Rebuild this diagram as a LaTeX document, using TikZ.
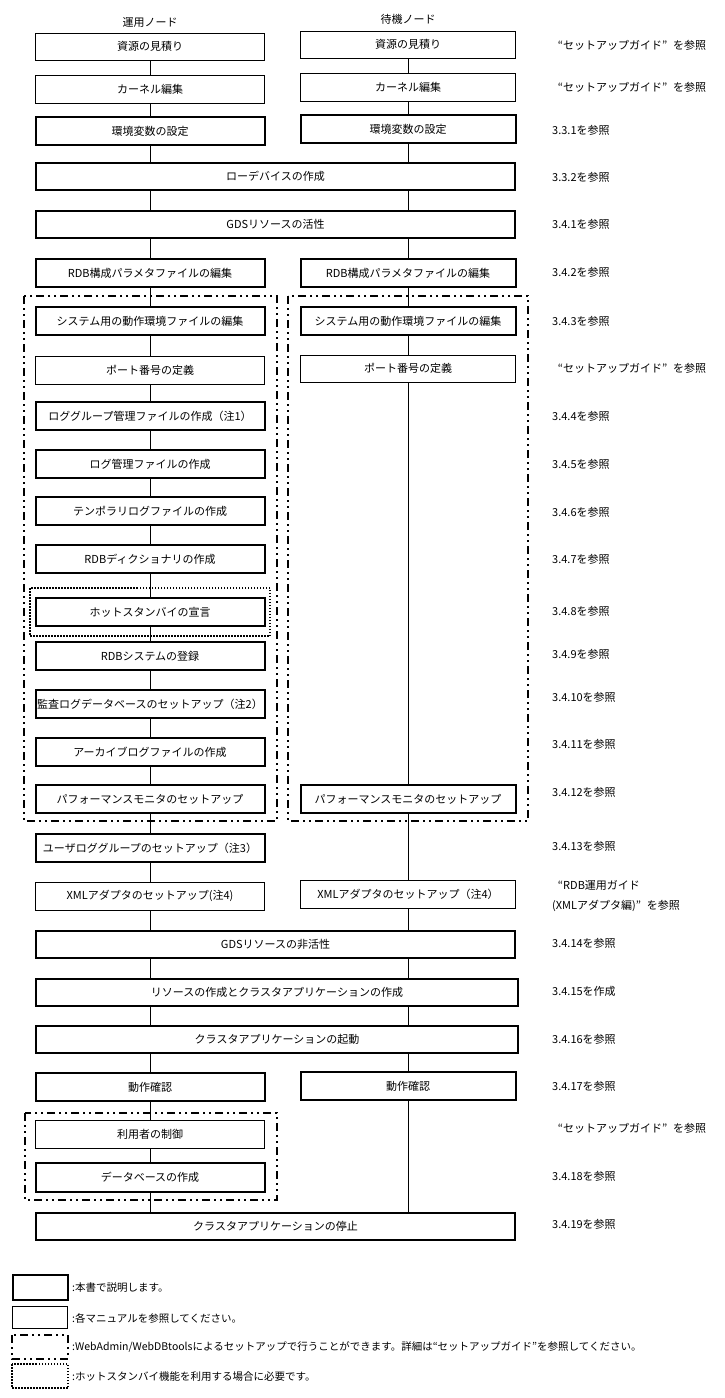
\documentclass[tikz,border=0pt]{standalone}
\usepackage{fontspec}
\setmainfont{Noto Sans CJK JP}
\tikzset{
  base/.style={rectangle, inner sep=0pt, outer sep=0pt, font=\fontsize{11}{13}\selectfont, align=center},
  thickbox/.style={base, draw, line width=2pt},
  thinbox/.style={base, draw, line width=1pt},
  lw/.style={minimum width=229pt, minimum height=28pt},
  rw/.style={minimum width=215pt, minimum height=28pt},
  ww/.style={minimum width=479pt, minimum height=27pt},
  conn/.style={line width=1pt},
  ddbox/.style={line width=2pt, dash pattern=on 8pt off 4pt on 2pt off 4pt on 2pt off 4pt},
  dotbox/.style={line width=1.5pt, dash pattern=on 1.5pt off 1.5pt},
  ref/.style={anchor=west, inner sep=0pt, font=\fontsize{11}{13}\selectfont},
  head/.style={inner sep=0pt, font=\fontsize{11}{13}\selectfont},
  leg/.style={anchor=west, inner sep=0pt, font=\fontsize{10.5}{12}\selectfont},
}
\newcommand\myLQ{\makebox[11pt][r]{“}}
\newcommand\myRQ{\makebox[11pt][l]{”}}
\begin{document}
\begin{tikzpicture}[x=1pt, y=-1pt]
\useasboundingbox[fill=white] (0,0) rectangle (725,1398);
\coordinate (lcol) at (150,0);
\coordinate (rcol) at (408,0);

% headers
\node[head] (hL) at (150,22) {運用ノード};
\node[head] (hR) at (408,19) {待機ノード};

% grouping frames
\draw[ddbox] (24,296) rectangle (277,821);
\draw[ddbox] (288,296) rectangle (528,821);
\draw[ddbox] (25,1113) rectangle (277,1200);
\draw[dotbox] (30,588) rectangle (270,636);

% left column
\node[thinbox, lw, minimum height=27pt] (L1) at (150,46.5) {資源の見積り};
\node[thinbox, lw] (L2) at (150,89) {カーネル編集};
\node[thickbox, lw] (L3) at (150,131) {環境変数の設定};
\node[thickbox, ww] (W4) at (275.5,176.5) {ローデバイスの作成};
\node[thickbox, ww] (W5) at (275.5,224.5) {GDSリソースの活性};
\node[thickbox, lw] (L6) at (150,273) {RDB構成パラメタファイルの編集};
\node[thickbox, lw] (L7) at (150,321) {システム用の動作環境ファイルの編集};
\node[thinbox, lw] (L8) at (150,370) {ポート番号の定義};
\node[thickbox, lw] (L9) at (150,416) {ロググループ管理ファイルの作成（注1）};
\node[thickbox, lw] (L10) at (150,464) {ログ管理ファイルの作成};
\node[thickbox, lw] (L11) at (150,511) {テンポラリログファイルの作成};
\node[thickbox, lw] (L12) at (150,559) {RDBディクショナリの作成};
\node[thickbox, lw] (L13) at (150,612) {ホットスタンバイの宣言};
\node[thickbox, lw] (L14) at (150,656) {RDBシステムの登録};
\node[thickbox, lw] (L15) at (150,704) {監査ログデータベースのセットアップ（注2）};
\node[thickbox, lw] (L16) at (150,752) {アーカイブログファイルの作成};
\node[thickbox, lw] (L17) at (150,799) {パフォーマンスモニタのセットアップ};
\node[thickbox, lw] (L18) at (150,848) {ユーザロググループのセットアップ（注3）};
\node[thinbox, lw] (L19) at (150,896) {XMLアダプタのセットアップ(注4)};
\node[thickbox, ww] (W20) at (275.5,944) {GDSリソースの非活性};
\node[thickbox, ww, minimum width=482pt] (W21) at (277,992) {リソースの作成とクラスタアプリケーションの作成};
\node[thickbox, ww, minimum width=482pt] (W22) at (277,1039) {クラスタアプリケーションの起動};
\node[thickbox, lw] (L23) at (150,1087) {動作確認};
\node[thinbox, lw] (L24) at (150,1134) {利用者の制御};
\node[thickbox, lw, minimum height=29pt] (L25) at (150,1177.5) {データベースの作成};
\node[thickbox, ww] (W26) at (275.5,1226) {クラスタアプリケーションの停止};

% right column
\node[thinbox, rw, minimum height=27pt] (R1) at (408,44.5) {資源の見積り};
\node[thinbox, rw] (R2) at (408,87) {カーネル編集};
\node[thickbox, rw] (R3) at (408,129) {環境変数の設定};
\node[thickbox, rw] (R6) at (408,273) {RDB構成パラメタファイルの編集};
\node[thickbox, rw] (R7) at (408,321) {システム用の動作環境ファイルの編集};
\node[thinbox, rw, minimum height=27pt] (R8) at (408,368.5) {ポート番号の定義};
\node[thickbox, rw] (R17) at (408,799) {パフォーマンスモニタのセットアップ};
\node[thinbox, rw] (R19) at (408,894) {XMLアダプタのセットアップ（注4）};
\node[thickbox, rw] (R23) at (408,1086) {動作確認};

% left connectors
\draw[conn] (L1) -- (L2);
\draw[conn] (L2) -- (L3);
\draw[conn] (L3) -- (L3.south |- W4.north);
\draw[conn] (W4.south -| lcol) -- (W5.north -| lcol);
\draw[conn] (W5.south -| lcol) -- (L6);
\draw[conn] (L6) -- (L7);
\draw[conn] (L7) -- (L8);
\draw[conn] (L8) -- (L9);
\draw[conn] (L9) -- (L10);
\draw[conn] (L10) -- (L11);
\draw[conn] (L11) -- (L12);
\draw[conn] (L12) -- (L13);
\draw[conn] (L13) -- (L14);
\draw[conn] (L14) -- (L15);
\draw[conn] (L15) -- (L16);
\draw[conn] (L16) -- (L17);
\draw[conn] (L17) -- (L18);
\draw[conn] (L18) -- (L19);
\draw[conn] (L19) -- (L19.south |- W20.north);
\draw[conn] (W20.south -| lcol) -- (W21.north -| lcol);
\draw[conn] (W21.south -| lcol) -- (W22.north -| lcol);
\draw[conn] (W22.south -| lcol) -- (L23);
\draw[conn] (L23) -- (L24);
\draw[conn] (L24) -- (L25);
\draw[conn] (L25) -- (L25.south |- W26.north);

% right connectors
\draw[conn] (R1) -- (R2);
\draw[conn] (R2) -- (R3);
\draw[conn] (R3) -- (R3.south |- W4.north);
\draw[conn] (W4.south -| rcol) -- (W5.north -| rcol);
\draw[conn] (W5.south -| rcol) -- (R6);
\draw[conn] (R6) -- (R7);
\draw[conn] (R7) -- (R8);
\draw[conn] (R8) -- (R17);
\draw[conn] (R17) -- (R19);
\draw[conn] (R19) -- (R19.south |- W20.north);
\draw[conn] (W20.south -| rcol) -- (W21.north -| rcol);
\draw[conn] (W21.south -| rcol) -- (W22.north -| rcol);
\draw[conn] (W22.south -| rcol) -- (R23);
\draw[conn] (R23) -- (R23.south |- W26.north);

% reference labels
\node[ref] (t1) at (552,45) {\myLQ セットアップガイド\myRQ を参照};
\node[ref] (t2) at (552,87) {\myLQ セットアップガイド\myRQ を参照};
\node[ref] (t3) at (552,130) {3.3.1を参照};
\node[ref] (t4) at (552,177) {3.3.2を参照};
\node[ref] (t5) at (552,224) {3.4.1を参照};
\node[ref] (t6) at (552,272) {3.4.2を参照};
\node[ref] (t7) at (552,321) {3.4.3を参照};
\node[ref] (t8) at (552,368) {\myLQ セットアップガイド\myRQ を参照};
\node[ref] (t9) at (552,416) {3.4.4を参照};
\node[ref] (t10) at (552,464) {3.4.5を参照};
\node[ref] (t11) at (552,512) {3.4.6を参照};
\node[ref] (t12) at (552,559) {3.4.7を参照};
\node[ref] (t13) at (552,611) {3.4.8を参照};
\node[ref] (t14) at (552,654) {3.4.9を参照};
\node[ref] (t15) at (552,697) {3.4.10を参照};
\node[ref] (t16) at (552,744) {3.4.11を参照};
\node[ref] (t17) at (552,792) {3.4.12を参照};
\node[ref] (t18) at (552,846) {3.4.13を参照};
\node[ref, align=left, font=\fontsize{11}{20}\selectfont] (t19) at (552,896) {\myLQ RDB運用ガイド\\(XMLアダプタ編)\myRQ を参照};
\node[ref] (t20) at (552,943) {3.4.14を参照};
\node[ref] (t21) at (552,991) {3.4.15を作成};
\node[ref] (t22) at (552,1039) {3.4.16を参照};
\node[ref] (t23) at (552,1086) {3.4.17を参照};
\node[ref] (t24) at (552,1128) {\myLQ セットアップガイド\myRQ を参照};
\node[ref] (t25) at (552,1176) {3.4.18を参照};
\node[ref] (t26) at (552,1224) {3.4.19を参照};

% legend
\node[thickbox, minimum width=55pt, minimum height=25pt] (k1) at (40,1287.5) {};
\node[thinbox, minimum width=55pt, minimum height=22pt] (k2) at (40,1317) {};
\draw[ddbox] (12,1335) rectangle (68,1359);
\draw[dotbox] (12,1364) rectangle (68,1388);
\node[leg] (g1) at (72,1288) {:本書で説明します。};
\node[leg] (g2) at (72,1318) {:各マニュアルを参照してください。};
\node[leg] (g3) at (72,1347) {:WebAdmin/WebDBtoolsによるセットアップで行うことができます。詳細は“セットアップガイド”を参照してください。};
\node[leg] (g4) at (72,1377) {:ホットスタンバイ機能を利用する場合に必要です。};
\end{tikzpicture}
\end{document}
